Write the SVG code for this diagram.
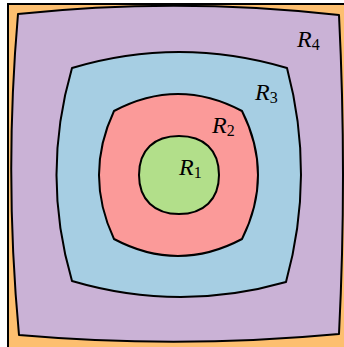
<svg xmlns="http://www.w3.org/2000/svg" width="344" height="347" viewBox="0 0 344 347">
<style>
.reg{stroke:#000;stroke-width:2;stroke-linejoin:round}
.lbl{font-family:"Liberation Serif","DejaVu Serif",serif;font-size:24px;fill:#000}
.it{font-style:italic}
.sub{font-size:16px}
</style>
<rect width="344" height="347" fill="#fff"/>
<rect x="8" y="4" width="340" height="350" fill="#FDBF6F" stroke="#000" stroke-width="2"/>
<g id="R4">
<path class="reg" fill="#CAB2D6" d="M18,14 Q178,-3 339,15 Q347,175 339,334 Q179,349 19,335 Q4,175 18,14 Z"/>
<text class="lbl" x="297" y="47"><tspan class="it">R</tspan><tspan class="sub" dy="3">4</tspan></text>
</g>
<g id="R3">
<path class="reg" fill="#A6CEE3" d="M72,68 Q179,36 287,68 Q315.5,175 286,282 Q179,312.5 72,281 Q41,175 72,68 Z"/>
<text class="lbl" x="255" y="100"><tspan class="it">R</tspan><tspan class="sub" dy="3">3</tspan></text>
</g>
<g id="R2">
<path class="reg" fill="#FB9A99" d="M114,111 Q178,77 242,111 Q274,175 242,239 Q178,273 114,239 Q84,175 114,111 Z"/>
<text class="lbl" x="212" y="133"><tspan class="it">R</tspan><tspan class="sub" dy="3">2</tspan></text>
</g>
<g id="R1">
<path class="reg" fill="#B2DF8A" d="M139,175 C139,149.5 154.5,136 179,136 C203.5,136 219,149.5 219,175 C219,199.5 203.5,214 179,214 C154.5,214 139,199.5 139,175 Z"/>
<text class="lbl" x="179" y="175"><tspan class="it">R</tspan><tspan class="sub" dy="3">1</tspan></text>
</g>
<g id="connectors"/>
</svg>
